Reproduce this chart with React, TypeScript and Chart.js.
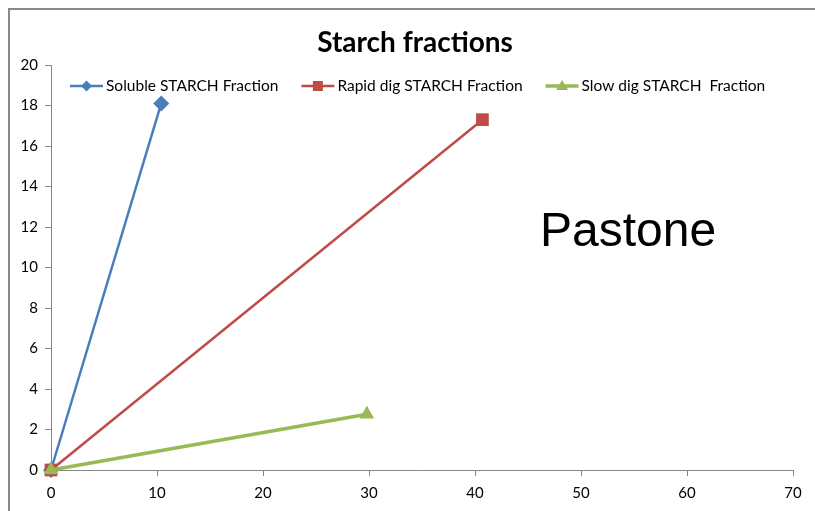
import React, { useEffect, useRef } from "react";
import { Chart, registerables } from "chart.js";

Chart.register(...registerables);

// Series values (x, y)
const solubleX = [0, 10.4];
const solubleY = [0, 18.1];
const rapidX = [0, 40.7];
const rapidY = [0, 17.3];
const slowX = [0, 29.8];
const slowY = [0, 2.75];

const seriesNames = ["Soluble STARCH Fraction", "Rapid dig STARCH Fraction", "Slow dig STARCH  Fraction"];
const seriesColors = ["#4a7ebb", "#be4b48", "#98b954"];
const xTicks = [0, 10, 20, 30, 40, 50, 60, 70];
const yTicks = [0, 2, 4, 6, 8, 10, 12, 14, 16, 18, 20];

const chartTitle = "Starch fractions";
const sideNote = "Pastone";

const FONT = "Lato, 'Open Sans', sans-serif";

const toPoints = (xs: number[], ys: number[]) => xs.map((x, i) => ({ x, y: ys[i] }));

const markerStyles = ["rectRot", "rect", "triangle"] as const;
const markerSizes = [8, 9, 8.5];
const lineWidths = [2.5, 2.5, 3.5];

const decorPlugin = {
  id: "decor",
  afterDraw(chart: any) {
    const ctx = chart.ctx as CanvasRenderingContext2D;
    ctx.save();
    // title
    ctx.fillStyle = "#000";
    ctx.font = `bold 28px ${FONT}`;
    ctx.textAlign = "center";
    ctx.textBaseline = "alphabetic";
    ctx.fillText(chartTitle, 415, 52);

    // side note
    ctx.font = "48px 'Liberation Sans', Arial, sans-serif";
    ctx.textAlign = "left";
    ctx.fillText(sideNote, 540, 246);

    // legend
    ctx.font = `15.5px ${FONT}`;
    ctx.textBaseline = "middle";
    let x = 70;
    const y = 86;
    chart.data.datasets.forEach((ds: any, i: number) => {
      ctx.strokeStyle = ds.borderColor;
      ctx.lineWidth = lineWidths[i];
      ctx.beginPath();
      ctx.moveTo(x, y);
      ctx.lineTo(x + 33, y);
      ctx.stroke();
      ctx.fillStyle = ds.borderColor;
      const cx = x + 16.5;
      ctx.beginPath();
      if (i === 0) {
        ctx.moveTo(cx, y - 5.5);
        ctx.lineTo(cx + 5.5, y);
        ctx.lineTo(cx, y + 5.5);
        ctx.lineTo(cx - 5.5, y);
      } else if (i === 1) {
        ctx.rect(cx - 5, y - 5, 10, 10);
      } else {
        ctx.moveTo(cx, y - 6);
        ctx.lineTo(cx + 6, y + 4);
        ctx.lineTo(cx - 6, y + 4);
      }
      ctx.closePath();
      ctx.fill();
      ctx.fillStyle = "#000";
      ctx.fillText(ds.label, x + 36, y);
      x += 36 + ctx.measureText(ds.label).width + 23;
    });
    ctx.restore();
  },
};

export default function App() {
  const ref = useRef<HTMLCanvasElement>(null);

  useEffect(() => {
    if (!ref.current) return;
    const data = [toPoints(solubleX, solubleY), toPoints(rapidX, rapidY), toPoints(slowX, slowY)];
    const chart = new Chart(ref.current, {
      type: "scatter",
      data: {
        datasets: data.map((pts, i) => ({
          label: seriesNames[i],
          data: pts,
          order: data.length - i,
          showLine: true,
          borderColor: seriesColors[i],
          backgroundColor: seriesColors[i],
          borderWidth: lineWidths[i],
          pointStyle: markerStyles[i],
          pointRadius: markerSizes[i],
          pointBorderWidth: 0,
          clip: false,
        })),
      },
      options: {
        animation: false,
        responsive: false,
        devicePixelRatio: 1,
        layout: { padding: { left: 0, top: 65, right: 22, bottom: 0 } },
        plugins: {
          legend: { display: false },
          title: { display: false },
          tooltip: { enabled: false },
        },
        scales: {
          x: {
            type: "linear",
            min: 0,
            max: 70,
            afterBuildTicks: (s: any) => {
              s.ticks = xTicks.map((v) => ({ value: v }));
            },
            afterFit: (s: any) => {
              s.height = 41;
            },
            grid: { drawOnChartArea: false, drawTicks: true, tickLength: 6, color: "#868686" },
            border: { display: true, color: "#868686", width: 1 },
            ticks: { color: "#000", font: { family: FONT, size: 15 }, padding: 8, maxRotation: 0 },
          },
          y: {
            type: "linear",
            min: 0,
            max: 20,
            afterBuildTicks: (s: any) => {
              s.ticks = yTicks.map((v) => ({ value: v }));
            },
            afterFit: (s: any) => {
              s.width = 51;
            },
            grid: { drawOnChartArea: false, drawTicks: true, tickLength: 6, color: "#868686" },
            border: { display: true, color: "#868686", width: 1 },
            ticks: { color: "#000", font: { family: FONT, size: 15 }, padding: 7 },
          },
        },
      },
      plugins: [decorPlugin],
    });
    return () => chart.destroy();
  }, []);

  return (
    <div style={{ position: "fixed", left: 0, top: 0, width: 815, height: 511, background: "#fff" }}>
      <div
        style={{
          position: "absolute",
          left: 8,
          top: 8,
          width: 807,
          height: 503,
          borderTop: "2px solid #888",
          borderLeft: "2px solid #888",
          boxSizing: "border-box",
        }}
      />
      <canvas ref={ref} width={815} height={511} style={{ position: "absolute", left: 0, top: 0 }} />
    </div>
  );
}
